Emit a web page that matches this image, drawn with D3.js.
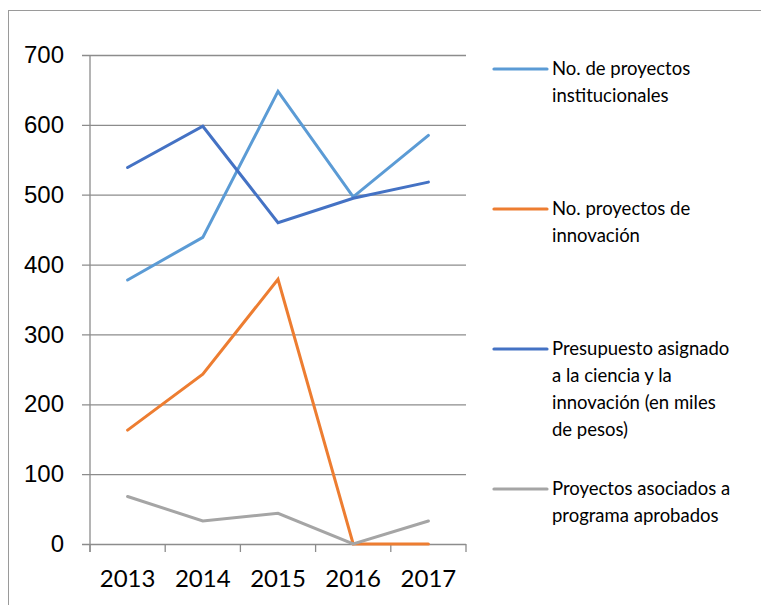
<!DOCTYPE html>
<html>
<head>
<meta charset="utf-8">
<script src="https://cdn.jsdelivr.net/npm/d3@7"></script>
<style>
  body { margin: 0; background: #fff; }
  svg { display: block; font-family: Lato, "Open Sans", sans-serif; }
</style>
</head>
<body>
<div id="chart"></div>
<script>
// data
var years = ["2013", "2014", "2015", "2016", "2017"];
var yTicks = [0, 100, 200, 300, 400, 500, 600, 700];

var institucionales = [378, 439, 648, 497, 585];
var innovacion = [163, 243, 379, 0, 0];
var presupuesto = [539, 598, 460, 495, 518];
var asociados = [68, 33, 44, 0, 33];

var seriesNames = [
  ["No. de proyectos", "institucionales"],
  ["No. proyectos de", "innovación"],
  ["Presupuesto asignado", "a la ciencia y la", "innovación (en miles", "de pesos)"],
  ["Proyectos asociados a", "programa aprobados"]
];
var seriesValues = [institucionales, innovacion, presupuesto, asociados];
var seriesColors = ["#5B9BD5", "#ED7D31", "#4472C4", "#A5A5A5"];

var width = 761, height = 605;
var margin = { top: 55, left: 90 };
var plotW = 376, plotH = 489;

var svg = d3.select("#chart").append("svg")
  .attr("width", width)
  .attr("height", height);

// outer frame (cut off on right and bottom)
svg.append("rect")
  .attr("x", 8.5).attr("y", 10.5)
  .attr("width", 900).attr("height", 900)
  .attr("fill", "none")
  .attr("stroke", "#9a9a9a")
  .attr("stroke-width", 1);

var xScale = d3.scaleBand()
  .domain(years)
  .range([0, plotW]);

var yScale = d3.scaleLinear()
  .domain([0, 700])
  .range([plotH, 0]);

var group = svg.append("g")
  .attr("transform", "translate(" + margin.left + "," + margin.top + ")");

// gridlines + y labels
var yAxis = d3.axisLeft(yScale)
  .tickValues(yTicks)
  .tickSize(-plotW - 8);

var yG = group.append("g")
  .attr("transform", "translate(-8,0)")
  .call(yAxis);
yG.select(".domain").remove();
yG.selectAll(".tick line")
  .attr("x1", 0)
  .attr("x2", plotW + 8)
  .attr("stroke", "#8c8c8c")
  .attr("stroke-width", 1.3);
yG.selectAll(".tick text")
  .attr("x", -18)
  .attr("fill", "#000")
  .style("font-size", "24px");

// vertical axis line
group.append("line")
  .attr("x1", 0).attr("x2", 0)
  .attr("y1", 0).attr("y2", plotH + 8)
  .attr("stroke", "#8c8c8c")
  .attr("stroke-width", 1.3);

// x category tick marks
var tickX = [0].concat(years.map(function (y) { return xScale(y) + xScale.bandwidth(); }));
group.selectAll(".xtick")
  .data(tickX)
  .enter()
  .append("line")
  .attr("x1", function (d) { return d; })
  .attr("x2", function (d) { return d; })
  .attr("y1", plotH)
  .attr("y2", plotH + 8)
  .attr("stroke", "#8c8c8c")
  .attr("stroke-width", 1.3);

// x labels
group.selectAll(".xlabel")
  .data(years)
  .enter()
  .append("text")
  .attr("x", function (d) { return xScale(d) + xScale.bandwidth() / 2; })
  .attr("y", plotH + 43)
  .attr("text-anchor", "middle")
  .style("font-size", "24px")
  .attr("fill", "#000")
  .text(function (d) { return d; });

// series lines
var line = d3.line()
  .x(function (d, i) { return xScale(years[i]) + xScale.bandwidth() / 2; })
  .y(function (d) { return yScale(d); });

seriesValues.forEach(function (vals, k) {
  group.append("path")
    .datum(vals)
    .attr("d", line)
    .attr("fill", "none")
    .attr("stroke", seriesColors[k])
    .attr("stroke-width", 3)
    .attr("stroke-linejoin", "miter")
    .attr("stroke-linecap", "round");
});

// legend
var legend = svg.append("g");
seriesNames.forEach(function (lines, k) {
  var y0 = 69 + k * 140;
  legend.append("line")
    .attr("x1", 494).attr("x2", 547)
    .attr("y1", y0).attr("y2", y0)
    .attr("stroke", seriesColors[k])
    .attr("stroke-width", 3.2)
    .attr("stroke-linecap", "round");
  lines.forEach(function (t, j) {
    legend.append("text")
      .attr("x", 552)
      .attr("y", y0 + j * 26.7)
      .attr("dy", "0.35em")
      .style("font-size", "18.5px")
      .attr("fill", "#000")
      .text(t);
  });
});
</script>
</body>
</html>
